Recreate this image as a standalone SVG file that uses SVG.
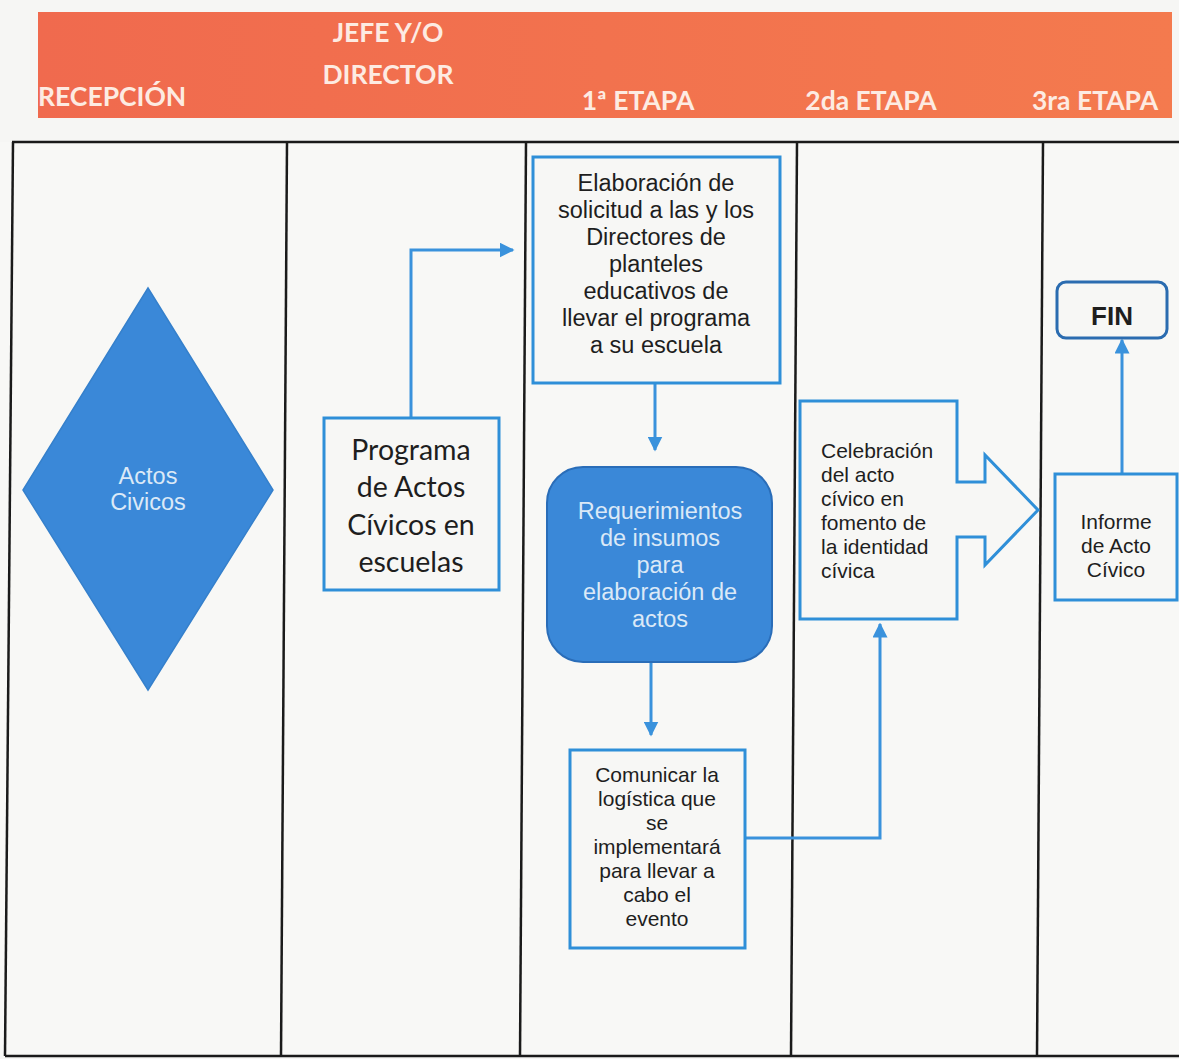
<svg xmlns="http://www.w3.org/2000/svg" width="1179" height="1059" viewBox="0 0 1179 1059">
<defs>
<style>
.hdr{font-family:Lato,"Open Sans","Liberation Sans",sans-serif;font-weight:700;font-size:26.5px;fill:#fdebe2}
.lane{stroke:#1a1a1a;stroke-width:2.5;fill:none}
.box{fill:#f7f7f5;stroke:#2f8fd8;stroke-width:3}
.ar{font-family:"Liberation Sans",Arial,sans-serif;fill:#1e1e1e}
.lt{font-family:"Liberation Sans",Arial,sans-serif;fill:#dbe9f7}
.cal{font-family:Lato,"Open Sans","Liberation Sans",sans-serif;fill:#1e1e1e}
.con{stroke:#3a92dc;stroke-width:3;fill:none}
</style>
<marker id="ah" viewBox="0 0 10 10" refX="9" refY="5" markerWidth="5" markerHeight="5" orient="auto" markerUnits="strokeWidth">
<path d="M0,0 L10,5 L0,10 z" fill="#3a92dc"/>
</marker>
<linearGradient id="hg" x1="0" x2="1" y1="0" y2="0">
<stop offset="0" stop-color="#f06a4e"/>
<stop offset="1" stop-color="#f47a4e"/>
</linearGradient>
</defs>
<rect width="1179" height="1059" fill="#f6f6f4"/>
<g id="header">
<rect x="38" y="12" width="1134" height="106" fill="url(#hg)"/>
<text class="hdr" x="38" y="106">RECEPCIÓN</text>
<text class="hdr" x="388" y="42" text-anchor="middle">JEFE Y/O</text>
<text class="hdr" x="388" y="84" text-anchor="middle">DIRECTOR</text>
<text class="hdr" x="638" y="110" text-anchor="middle">1ª ETAPA</text>
<text class="hdr" x="871" y="110" text-anchor="middle">2da ETAPA</text>
<text class="hdr" x="1095" y="110" text-anchor="middle">3ra ETAPA</text>
</g>
<g id="lanes">
<rect x="0" y="142" width="1179" height="914" fill="#f8f8f6"/>
<line class="lane" x1="12" y1="142" x2="1179" y2="142"/>
<line class="lane" x1="5" y1="1056" x2="1179" y2="1056"/>
<line class="lane" x1="13" y1="142" x2="5" y2="1056"/>
<line class="lane" x1="287" y1="142" x2="281" y2="1056"/>
<line class="lane" x1="526" y1="142" x2="520" y2="1056"/>
<line class="lane" x1="797" y1="142" x2="791" y2="1056"/>
<line class="lane" x1="1043" y1="142" x2="1037" y2="1056"/>
</g>
<g id="connectors">
<polyline class="con" points="411,418 411,250 513,250" marker-end="url(#ah)"/>
<polyline class="con" points="655,383 655,450" marker-end="url(#ah)"/>
<polyline class="con" points="651,662 651,735" marker-end="url(#ah)"/>
<polyline class="con" points="745,838 880,838 880,624" marker-end="url(#ah)"/>
<polyline class="con" points="1122,474 1122,340" marker-end="url(#ah)"/>
</g>
<g id="actos-civicos">
<polygon points="148,288 273,490 148,690 23,490" fill="#3a88d8" stroke="#3580cc" stroke-width="1.5"/>
<text class="lt" font-size="23.5" text-anchor="middle"><tspan x="148" y="484">Actos</tspan><tspan x="148" y="510">Civicos</tspan></text>
</g>
<g id="programa">
<rect class="box" x="324" y="418" width="175" height="172"/>
<text class="cal" font-size="28.5" text-anchor="middle"><tspan x="411" y="460">Programa</tspan><tspan x="411" y="497">de Actos</tspan><tspan x="411" y="535">Cívicos en</tspan><tspan x="411" y="572">escuelas</tspan></text>
</g>
<g id="elaboracion">
<rect class="box" x="533" y="157" width="247" height="226"/>
<text class="ar" font-size="23.5" text-anchor="middle"><tspan x="656" y="191">Elaboración de</tspan><tspan x="656" y="218">solicitud a las y los</tspan><tspan x="656" y="245">Directores de</tspan><tspan x="656" y="272">planteles</tspan><tspan x="656" y="299">educativos de</tspan><tspan x="656" y="326">llevar el programa</tspan><tspan x="656" y="353">a su escuela</tspan></text>
</g>
<g id="requerimientos">
<rect x="547" y="467" width="225" height="195" rx="36" fill="#3a88d8" stroke="#2a6db8" stroke-width="2"/>
<text class="lt" font-size="23.5" text-anchor="middle"><tspan x="660" y="519">Requerimientos</tspan><tspan x="660" y="546">de insumos</tspan><tspan x="660" y="573">para</tspan><tspan x="660" y="600">elaboración de</tspan><tspan x="660" y="627">actos</tspan></text>
</g>
<g id="comunicar">
<rect class="box" x="570" y="750" width="175" height="198"/>
<text class="ar" font-size="21" text-anchor="middle"><tspan x="657" y="782">Comunicar la</tspan><tspan x="657" y="806">logística que</tspan><tspan x="657" y="830">se</tspan><tspan x="657" y="854">implementará</tspan><tspan x="657" y="878">para llevar a</tspan><tspan x="657" y="902">cabo el</tspan><tspan x="657" y="926">evento</tspan></text>
</g>
<g id="celebracion">
<path class="box" d="M800,401 L957,401 L957,482 L985,482 L985,455 L1038,510 L985,565 L985,537 L957,537 L957,619 L800,619 Z"/>
<text class="ar" font-size="21"><tspan x="821" y="458">Celebración</tspan><tspan x="821" y="482">del acto</tspan><tspan x="821" y="506">cívico en</tspan><tspan x="821" y="530">fomento de</tspan><tspan x="821" y="554">la identidad</tspan><tspan x="821" y="578">cívica</tspan></text>
</g>
<g id="informe">
<rect class="box" x="1055" y="474" width="122" height="126"/>
<text class="ar" font-size="21" text-anchor="middle"><tspan x="1116" y="529">Informe</tspan><tspan x="1116" y="553">de Acto</tspan><tspan x="1116" y="577">Cívico</tspan></text>
</g>
<g id="fin">
<rect x="1057" y="282" width="110" height="56" rx="9" fill="#f7f7f5" stroke="#2b6cb0" stroke-width="3"/>
<text class="ar" font-size="26" font-weight="700" fill="#333" text-anchor="middle" x="1112" y="325">FIN</text>
</g>
</svg>
